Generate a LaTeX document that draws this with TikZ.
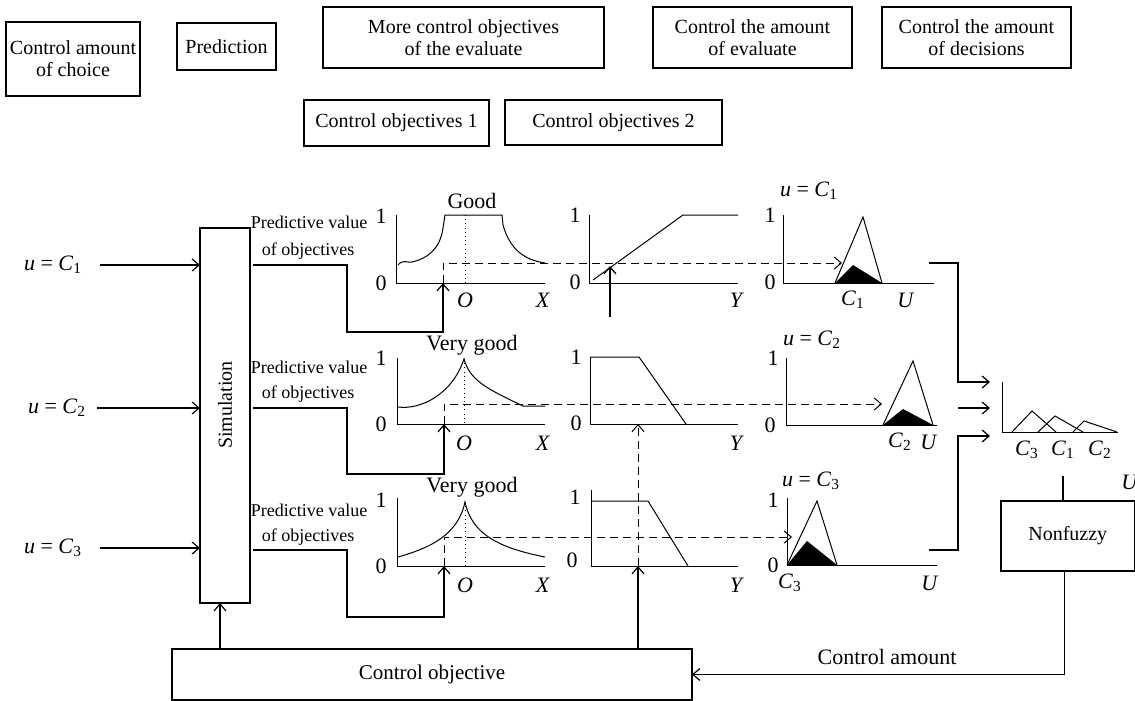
\documentclass[tikz,border=0pt]{standalone}
\usepackage{fontspec}
\setmainfont{Liberation Serif}
\usetikzlibrary{arrows.meta,calc}
\newcommand{\uC}[1]{\textit{u} = \textit{C}\textsubscript{#1}}
\newcommand{\iC}[1]{\textit{C}\textsubscript{#1}}
\begin{document}
\begin{tikzpicture}[x=0.5pt,y=-0.5pt,
  box/.style={draw, line width=0.6pt, inner sep=0pt, outer sep=0pt, align=center, font=\fontsize{10}{11}\selectfont},
  lbl/.style={inner sep=0pt, font=\fontsize{11}{12}\selectfont},
  sml/.style={inner sep=0pt, font=\fontsize{9}{10}\selectfont},
  ln/.style={line width=0.6pt},
  gr/.style={line width=0.5pt},
  arr/.style={-{Straight Barb[length=3.5pt,width=6pt]}},
  dsh/.style={dash pattern=on 4pt off 2.5pt, line width=0.5pt},
  dot/.style={dash pattern=on 0.5pt off 1.6pt, line width=0.5pt}]
\useasboundingbox (0,0) rectangle (1135,701);

% ---------- top boxes ----------
\node[box, minimum width=67pt, minimum height=37pt] (choice) at (73,59) {Control amount\\of choice};
\node[box, minimum width=49.5pt, minimum height=23.5pt] (pred) at (226.5,46.5) {Prediction};
\node[box, minimum width=140.5pt, minimum height=30.5pt] (more) at (463.5,37.5) {More control objectives\\of the evaluate};
\node[box, minimum width=99.5pt, minimum height=30.5pt] (ceval) at (752.5,37.5) {Control the amount\\of evaluate};
\node[box, minimum width=94.5pt, minimum height=30.5pt] (cdec) at (976.5,37.5) {Control the amount\\of decisions};
\node[box, minimum width=92.5pt, minimum height=23pt] (co1) at (396.5,123) {Control objectives 1};
\node[box, minimum width=108.5pt, minimum height=22.5pt] (co2) at (613.5,122.5) {Control objectives 2};

% ---------- main boxes ----------
\node[box, minimum width=25pt, minimum height=187.5pt] (sim) at (225,415.5) {};
\node[inner sep=0pt, font=\fontsize{10}{12}\selectfont, rotate=90] (simtxt) at (225,405) {Simulation};
\node[box, minimum width=260pt, minimum height=25.5pt, font=\fontsize{10.5}{12}\selectfont] (cobj) at (432,674.5) {Control objective};
\node[box, minimum width=66.75pt, minimum height=35pt] (nonf) at (1067.75,536) {Nonfuzzy};

% ---------- inputs ----------
\node[lbl] (u1) at (53,265) {\uC1};
\node[lbl] (u2) at (57,408) {\uC2};
\node[lbl] (u3) at (53,548) {\uC3};
\draw[ln,arr] ($(u1)+(47,0)$) -- (sim.west |- u1);
\draw[ln,arr] ($(u2)+(40,0)$) -- (sim.west |- u2);
\draw[ln,arr] ($(u3)+(47,0)$) -- (sim.west |- u3);

% ---------- predictive value labels ----------
\node[sml] (pv1a) at (309,222) {Predictive value};
\node[sml] (pv1b) at (308,251) {of objectives};
\node[sml] (pv2a) at (309,367) {Predictive value};
\node[sml] (pv2b) at (308,394) {of objectives};
\node[sml] (pv3a) at (309,510) {Predictive value};
\node[sml] (pv3b) at (308,537) {of objectives};

% named ends on the graphs
\coordinate (x1) at (443,283);
\coordinate (x2) at (444,424);
\coordinate (x3) at (444,566);
\coordinate (r1) at (0,265);
\coordinate (r2) at (0,408);
\coordinate (r3) at (0,550);

\draw[ln,arr] ($(sim.east |- r1)+(3,0)$) -- (347,265) -- (347,332) -- (x1 |- 0,332) -- (x1);
\draw[ln,arr] ($(sim.east |- r2)+(3,0)$) -- (347,408) -- (347,474) -- (x2 |- 0,474) -- (x2);
\draw[ln,arr] ($(sim.east |- r3)+(3,0)$) -- (347,550) -- (347,617) -- (x3 |- 0,617) -- (x3);

% ---------- row 1 graphs ----------
\draw[gr] (396,215) -- (396,283) -- (545,283);
\draw[gr] (398,265) .. controls (403,259) and (407,263) .. (412,262)
   .. controls (426,259) and (440,250) .. (443,228) -- (445,215) -- (502,215)
   -- (503,225) .. controls (510,250) and (525,260) .. (545,263);
\draw[dot] (465,215) -- (465,283);
\node[lbl] at (472,201) {Good};
\node[lbl] at (381,216) {1};
\node[lbl] at (381,283) {0};
\node[lbl] at (465,300) {\textit{O}};
\node[lbl] at (543,300) {\textit{X}};

\draw[gr] (589,215) -- (589,283) -- (738,283);
\draw[gr] (593,280) -- (683,215) -- (738,215);
\node[lbl] at (575,215) {1};
\node[lbl] at (575,282) {0};
\node[lbl] at (737,300) {\textit{Y}};
\coordinate (ya) at (610,317);
\draw[ln,arr] (ya) -- (610,266);

\draw[gr] (783,215) -- (783,283) -- (934,283);
\draw[gr] (835,283) -- (863,217) -- (882,283);
\fill (835,283) -- (853,265) -- (882,283) -- cycle;
\node[lbl] at (770,215) {1};
\node[lbl] at (770,282) {0};
\node[lbl] at (853,300) {\iC1};
\node[lbl] at (906,300) {\textit{U}};
\node[lbl] at (809,191) {\uC1};

\draw[dsh,arr] (x1) -- (443,263) -- (842,263);

% ---------- row 2 graphs ----------
\draw[gr] (397,358) -- (397,424) -- (545,424);
\draw[gr] (398,407) .. controls (420,410) and (452,395) .. (464,359)
   .. controls (470,380) and (485,388) .. (523,406) -- (545,406);
\draw[dot] (464,359) -- (464,424);
\node[lbl] at (472,345) {Very good};
\node[lbl] at (381,358) {1};
\node[lbl] at (381,424) {0};
\node[lbl] at (464,443) {\textit{O}};
\node[lbl] at (543,443) {\textit{X}};

\draw[gr] (590,357) -- (590,424) -- (738,424);
\draw[gr] (590,357) -- (639,357) -- (686,424);
\node[lbl] at (576,357) {1};
\node[lbl] at (576,423) {0};
\node[lbl] at (737,443) {\textit{Y}};

\draw[gr] (786,358) -- (786,425) -- (937,425);
\draw[gr] (883,425) -- (913,361) -- (933,425);
\fill (883,425) -- (903,409) -- (933,425) -- cycle;
\node[lbl] at (773,358) {1};
\node[lbl] at (770,425) {0};
\node[lbl] at (900,442) {\iC2};
\node[lbl] at (929,442) {\textit{U}};
\node[lbl] at (812,340) {\uC2};

\draw[dsh,arr] (x2) -- (444,404) -- (882,404);

% ---------- row 3 graphs ----------
\draw[gr] (397,498) -- (397,566) -- (545,566);
\draw[gr] (398,557) .. controls (430,548) and (458,535) .. (465,502)
   .. controls (472,535) and (500,548) .. (545,557);
\draw[dot] (465,502) -- (465,566);
\node[lbl] at (472,487) {Very good};
\node[lbl] at (381,500) {1};
\node[lbl] at (381,566) {0};
\node[lbl] at (465,585) {\textit{O}};
\node[lbl] at (543,585) {\textit{X}};

\draw[gr] (591,490) -- (591,566) -- (738,566);
\draw[gr] (591,501) -- (648,501) -- (688,566);
\node[lbl] at (575,497) {1};
\node[lbl] at (572,560) {0};
\node[lbl] at (737,585) {\textit{Y}};

\draw[gr] (787,498) -- (787,565) -- (937,565);
\draw[gr] (787,565) -- (817,501) -- (837,565);
\fill (787,565) -- (807,541) -- (837,565) -- cycle;
\node[lbl] at (773,500) {1};
\node[lbl] at (773,565) {0};
\node[lbl] at (790,583) {\iC3};
\node[lbl] at (930,583) {\textit{U}};
\node[lbl] at (811,481) {\uC3};

\draw[dsh,arr] (x3) -- (444,537) -- (792,537);

% ---------- control objective feedback ----------
\coordinate (ys3) at (638,566);
\coordinate (ys2) at (638,424);
\draw[ln,arr] (cobj.north -| ys3) -- (ys3);
\draw[dsh,arr] (ys3) -- (ys2);
\coordinate (sa) at (220,0);
\draw[ln,arr] (cobj.north -| sa) -- (sim.south -| sa);

% ---------- aggregation ----------
\coordinate (o1) at (929,263);
\coordinate (o2) at (958,408);
\coordinate (o3) at (929,550);
\coordinate (a1) at (990,382);
\coordinate (a2) at (990,408);
\coordinate (a3) at (990,436);
\draw[ln,arr] (o1) -- (958,263) -- (958,382) -- (a1);
\draw[ln,arr] (o2) -- (a2);
\draw[ln,arr] (o3) -- (958,550) -- (958,436) -- (a3);

\draw[gr] (1002,382) -- (1002,432) -- (1118,432);
\draw[gr] (1012,432) -- (1032,411) -- (1056,432);
\draw[gr] (1038,432) -- (1055,416) -- (1083,432);
\draw[gr] (1073,432) -- (1084,421) -- (1117,432);
\node[lbl] at (1027,450) {\iC3};
\node[lbl] at (1063,450) {\iC1};
\node[lbl] at (1100,450) {\iC2};
\node[lbl] at (1130,482) {\textit{U}};

\coordinate (agg) at (1063,476);
\draw[ln] (agg) -- (agg |- nonf.north);
\draw[ln,arr] ([xshift=-1.75pt]nonf.south) |- (cobj.east);
\node[lbl] (camt) at (887,657) {Control amount};
\end{tikzpicture}
\end{document}
